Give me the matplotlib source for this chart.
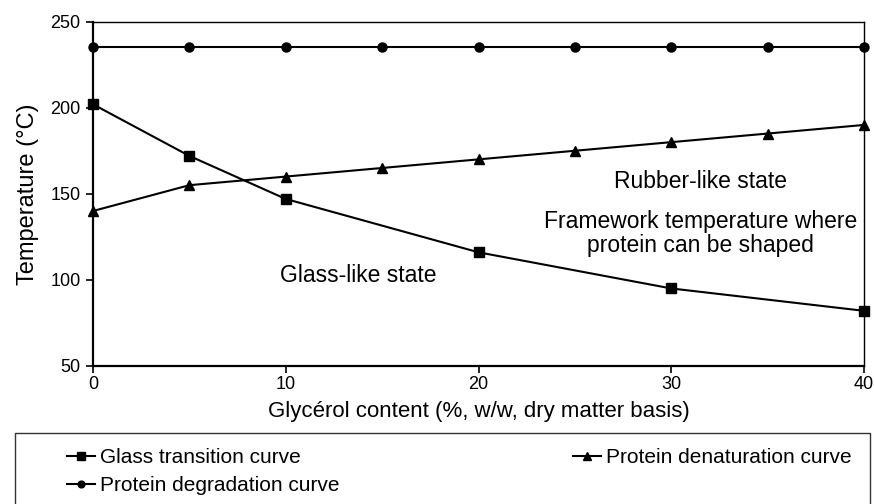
import matplotlib.pyplot as plt
from matplotlib.patches import Rectangle

plt.rcParams['font.family'] = ['Liberation Sans', 'DejaVu Sans']

# glass transition (squares)
glass_x = [0, 5, 10, 20, 30, 40]
glass_y = [202, 172, 147, 116, 95, 82]

# protein denaturation (triangles)
denat_x = [0, 5, 10, 15, 20, 25, 30, 35, 40]
denat_y = [140, 155, 160, 165, 170, 175, 180, 185, 190]

# protein degradation (circles)
degr_x = [0, 5, 10, 15, 20, 25, 30, 35, 40]
degr_y = [235, 235, 235, 235, 235, 235, 235, 235, 235]

x_ticks = [0, 10, 20, 30, 40]
y_ticks = [50, 100, 150, 200, 250]

fig = plt.figure(figsize=(8.74, 5.04), dpi=100)
ax = fig.add_axes([0.1064, 0.274, 0.8822, 0.683])

l1, = ax.plot(glass_x, glass_y, color='black', lw=1.5, marker='s', ms=7,
              label='Glass transition curve', clip_on=False)
l2, = ax.plot(denat_x, denat_y, color='black', lw=1.5, marker='^', ms=7,
              label='Protein denaturation curve', clip_on=False)
l3, = ax.plot(degr_x, degr_y, color='black', lw=1.5, marker='o', ms=6.5,
              label='Protein degradation curve', clip_on=False)

ax.set_xlim(0, 40)
ax.set_ylim(50, 250)
ax.set_xticks(x_ticks)
ax.set_yticks(y_ticks)
ax.tick_params(labelsize=13, direction='out', length=5, width=1.2, pad=4)
ax.tick_params(axis='x', pad=2)

for s in ['left', 'bottom']:
    ax.spines[s].set_linewidth(1.6)
for s in ['top', 'right']:
    ax.spines[s].set_linewidth(1.0)

ax.set_xlabel('Glycérol content (%, w/w, dry matter basis)', fontsize=16, labelpad=6)
ax.set_ylabel('Temperature (°C)', fontsize=17, labelpad=8)

# annotations
ax.text(31.5, 157, 'Rubber-like state', fontsize=16.5, ha='center', va='center')
ax.text(31.5, 134, 'Framework temperature where', fontsize=16.5, ha='center', va='center')
ax.text(31.5, 120, 'protein can be shaped', fontsize=16.5, ha='center', va='center')
ax.text(13.75, 102.5, 'Glass-like state', fontsize=16.5, ha='center', va='center')

# legend: glass + degradation in first column, denaturation in second
leg = fig.legend(handles=[l1, l3, l2], loc='upper left', ncol=2,
                 bbox_to_anchor=(67 / 874, 0, (852 - 67) / 874, 1 - 448 / 504),
                 mode='expand', fontsize=15, handlelength=1.35, handletextpad=0.25,
                 borderpad=0, borderaxespad=0, labelspacing=0.45, frameon=False,
                 markerscale=0.75)

fig.patches.append(Rectangle((15 / 874, -0.1), 855 / 874, 0.1 + 1 - 433 / 504,
                             transform=fig.transFigure, fill=False,
                             edgecolor='#333333', lw=1.0))

fig.savefig('out.png', dpi=100)
